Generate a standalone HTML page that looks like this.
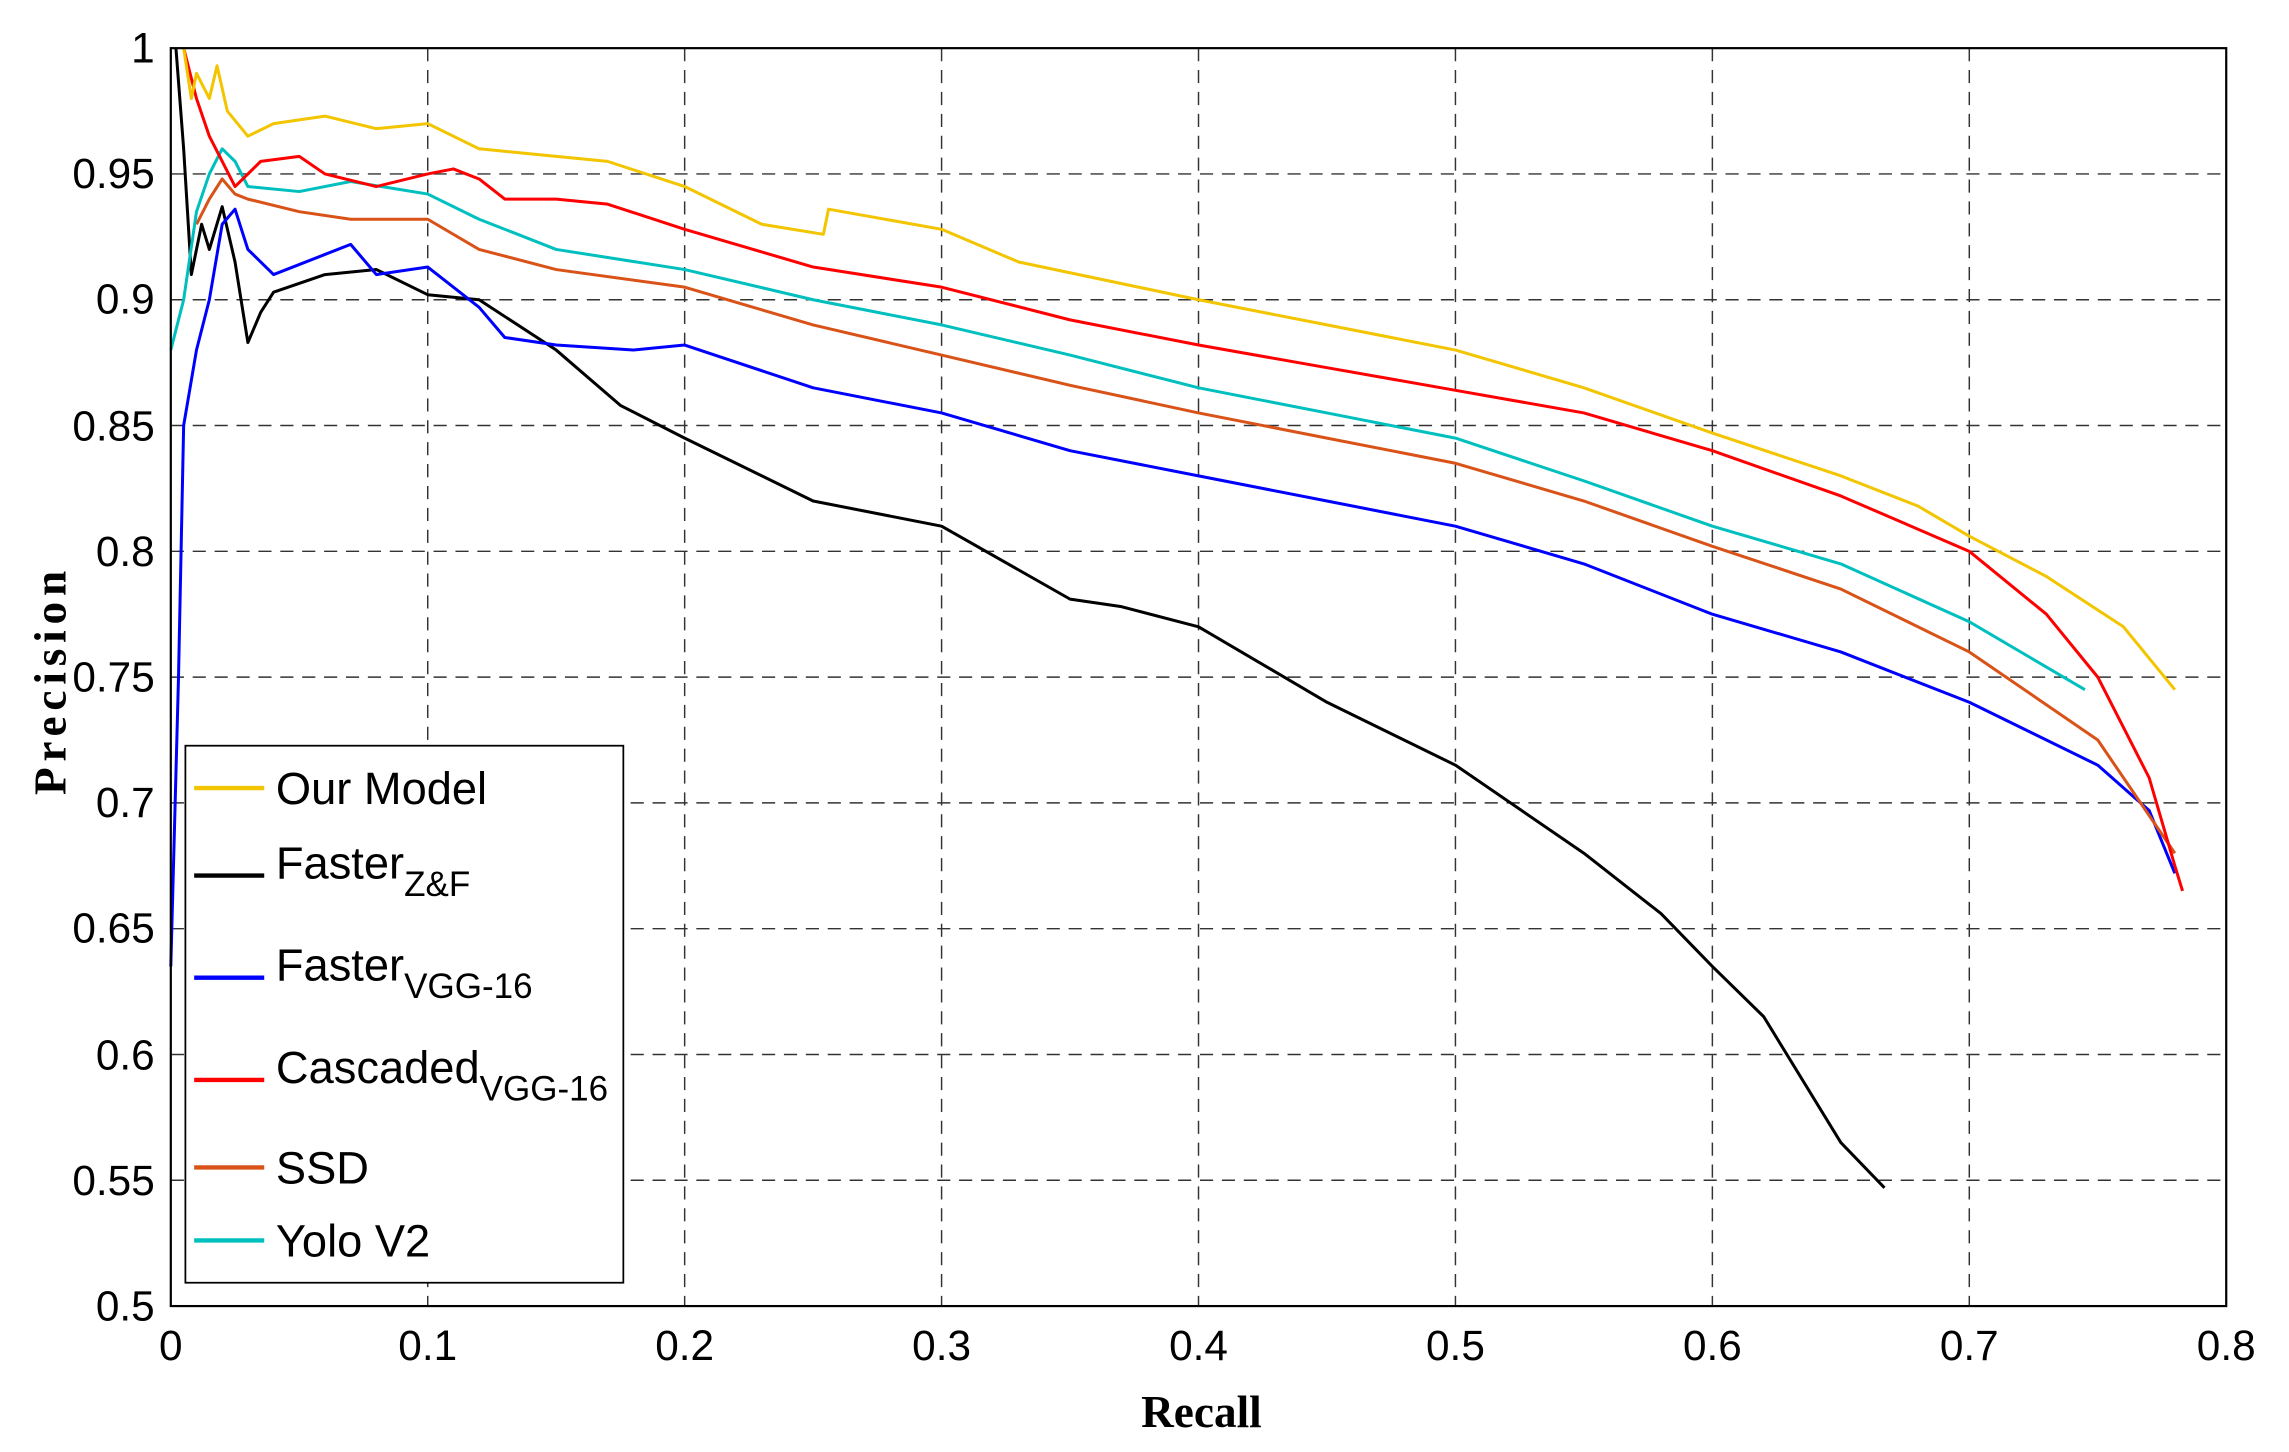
<!DOCTYPE html>
<html><head><meta charset="utf-8"><style>
html,body{margin:0;padding:0;background:#fff;}
svg{display:block;}
</style></head><body>
<svg width="2289" height="1452" viewBox="0 0 1568 995" preserveAspectRatio="none" xmlns="http://www.w3.org/2000/svg" font-family="Liberation Sans, Arial, sans-serif">
<rect width="1568" height="995" fill="#fff"/>
<g stroke="#333" stroke-width="1" stroke-dasharray="9,6">
<line x1="293" y1="33" x2="293" y2="895"/><line x1="469" y1="33" x2="469" y2="895"/><line x1="645" y1="33" x2="645" y2="895"/><line x1="821" y1="33" x2="821" y2="895"/><line x1="997" y1="33" x2="997" y2="895"/><line x1="1173" y1="33" x2="1173" y2="895"/><line x1="1349" y1="33" x2="1349" y2="895"/>
<line x1="117" y1="808.8" x2="1525" y2="808.8"/><line x1="117" y1="722.6" x2="1525" y2="722.6"/><line x1="117" y1="636.4" x2="1525" y2="636.4"/><line x1="117" y1="550.2" x2="1525" y2="550.2"/><line x1="117" y1="464" x2="1525" y2="464"/><line x1="117" y1="377.8" x2="1525" y2="377.8"/><line x1="117" y1="291.6" x2="1525" y2="291.6"/><line x1="117" y1="205.4" x2="1525" y2="205.4"/><line x1="117" y1="119.2" x2="1525" y2="119.2"/>
</g>
<g transform="matrix(1760,0,0,-1724,117,1757)" fill="none" stroke-linejoin="round">
<polyline vector-effect="non-scaling-stroke" stroke-width="3" stroke="#000" points="0.002,1 0.005,0.96 0.008,0.91 0.012,0.93 0.015,0.92 0.02,0.937 0.025,0.915 0.03,0.883 0.035,0.895 0.04,0.903 0.06,0.91 0.08,0.912 0.1,0.902 0.12,0.9 0.15,0.88 0.175,0.858 0.2,0.845 0.25,0.82 0.3,0.81 0.35,0.781 0.37,0.778 0.4,0.77 0.45,0.74 0.5,0.715 0.55,0.68 0.58,0.656 0.6,0.635 0.62,0.615 0.65,0.565 0.667,0.547"/>
<polyline vector-effect="non-scaling-stroke" stroke-width="3" stroke="#0000ff" points="0,0.635 0.003,0.75 0.005,0.85 0.01,0.88 0.015,0.9 0.02,0.93 0.025,0.936 0.03,0.92 0.04,0.91 0.06,0.918 0.07,0.922 0.08,0.91 0.1,0.913 0.12,0.897 0.13,0.885 0.15,0.882 0.18,0.88 0.2,0.882 0.25,0.865 0.3,0.855 0.35,0.84 0.4,0.83 0.45,0.82 0.5,0.81 0.55,0.795 0.6,0.775 0.65,0.76 0.7,0.74 0.75,0.715 0.77,0.697 0.78,0.672"/>
<polyline vector-effect="non-scaling-stroke" stroke-width="3" stroke="#d95319" points="0.01,0.93 0.015,0.94 0.02,0.948 0.025,0.942 0.03,0.94 0.05,0.935 0.07,0.932 0.1,0.932 0.12,0.92 0.15,0.912 0.2,0.905 0.25,0.89 0.3,0.878 0.35,0.866 0.4,0.855 0.45,0.845 0.5,0.835 0.55,0.82 0.6,0.802 0.65,0.785 0.7,0.76 0.75,0.725 0.78,0.68"/>
<polyline vector-effect="non-scaling-stroke" stroke-width="3" stroke="#00bfbf" points="0,0.88 0.005,0.9 0.01,0.935 0.015,0.95 0.02,0.96 0.025,0.955 0.03,0.945 0.05,0.943 0.07,0.947 0.1,0.942 0.12,0.932 0.15,0.92 0.2,0.912 0.25,0.9 0.3,0.89 0.35,0.878 0.4,0.865 0.45,0.855 0.5,0.845 0.55,0.828 0.6,0.81 0.65,0.795 0.7,0.772 0.745,0.745"/>
<polyline vector-effect="non-scaling-stroke" stroke-width="3" stroke="#ff0000" points="0.005,1 0.01,0.98 0.015,0.965 0.02,0.955 0.025,0.945 0.035,0.955 0.05,0.957 0.06,0.95 0.08,0.945 0.1,0.95 0.11,0.952 0.12,0.948 0.13,0.94 0.15,0.94 0.17,0.938 0.2,0.928 0.25,0.913 0.3,0.905 0.35,0.892 0.4,0.882 0.45,0.873 0.5,0.864 0.55,0.855 0.6,0.84 0.65,0.822 0.7,0.8 0.73,0.775 0.75,0.75 0.77,0.71 0.78,0.675 0.783,0.665"/>
<polyline vector-effect="non-scaling-stroke" stroke-width="3" stroke="#f2c500" points="0.005,1 0.008,0.98 0.01,0.99 0.015,0.98 0.018,0.993 0.022,0.975 0.03,0.965 0.04,0.97 0.06,0.973 0.08,0.968 0.1,0.97 0.12,0.96 0.15,0.957 0.17,0.955 0.2,0.945 0.23,0.93 0.254,0.926 0.256,0.936 0.3,0.928 0.33,0.915 0.4,0.9 0.45,0.89 0.5,0.88 0.55,0.865 0.6,0.847 0.65,0.83 0.68,0.818 0.7,0.806 0.73,0.79 0.76,0.77 0.78,0.745"/>
</g>
<rect x="117" y="33" width="1408" height="862" fill="none" stroke="#000" stroke-width="1.5"/>
<g font-size="29" fill="#000" text-anchor="middle">
<text x="117" y="932">0</text><text x="293" y="932">0.1</text><text x="469" y="932">0.2</text><text x="645" y="932">0.3</text><text x="821" y="932">0.4</text><text x="997" y="932">0.5</text><text x="1173" y="932">0.6</text><text x="1349" y="932">0.7</text><text x="1525" y="932">0.8</text>
</g>
<g font-size="29" fill="#000" text-anchor="end">
<text x="106" y="905">0.5</text><text x="106" y="819">0.55</text><text x="106" y="733">0.6</text><text x="106" y="646">0.65</text><text x="106" y="560">0.7</text><text x="106" y="474">0.75</text><text x="106" y="388">0.8</text><text x="106" y="302">0.85</text><text x="106" y="215">0.9</text><text x="106" y="129">0.95</text><text x="106" y="43">1</text>
</g>
<text x="823" y="978" font-family="Liberation Serif, serif" font-weight="bold" font-size="31" text-anchor="middle">Recall</text>
<text transform="translate(45,466) rotate(-90)" font-family="Liberation Serif, serif" font-weight="bold" font-size="31" text-anchor="middle" letter-spacing="4">Precision</text>
<rect x="127" y="511" width="300" height="368" fill="#fff" stroke="#000" stroke-width="1.2"/>
<g font-size="31" fill="#000">
<line x1="133" y1="540" x2="181" y2="540" stroke="#f2c500" stroke-width="3"/><text x="189" y="551">Our Model</text>
<line x1="133" y1="600" x2="181" y2="600" stroke="#000" stroke-width="3"/><text x="189" y="602">Faster<tspan font-size="24" dy="12">Z&amp;F</tspan></text>
<line x1="133" y1="670" x2="181" y2="670" stroke="#0000ff" stroke-width="3"/><text x="189" y="672">Faster<tspan font-size="24" dy="12">VGG-16</tspan></text>
<line x1="133" y1="740" x2="181" y2="740" stroke="#ff0000" stroke-width="3"/><text x="189" y="742">Cascaded<tspan font-size="24" dy="12">VGG-16</tspan></text>
<line x1="133" y1="800" x2="181" y2="800" stroke="#d95319" stroke-width="3"/><text x="189" y="811">SSD</text>
<line x1="133" y1="850" x2="181" y2="850" stroke="#00bfbf" stroke-width="3"/><text x="189" y="861">Yolo V2</text>
</g>
</svg>
</body></html>
